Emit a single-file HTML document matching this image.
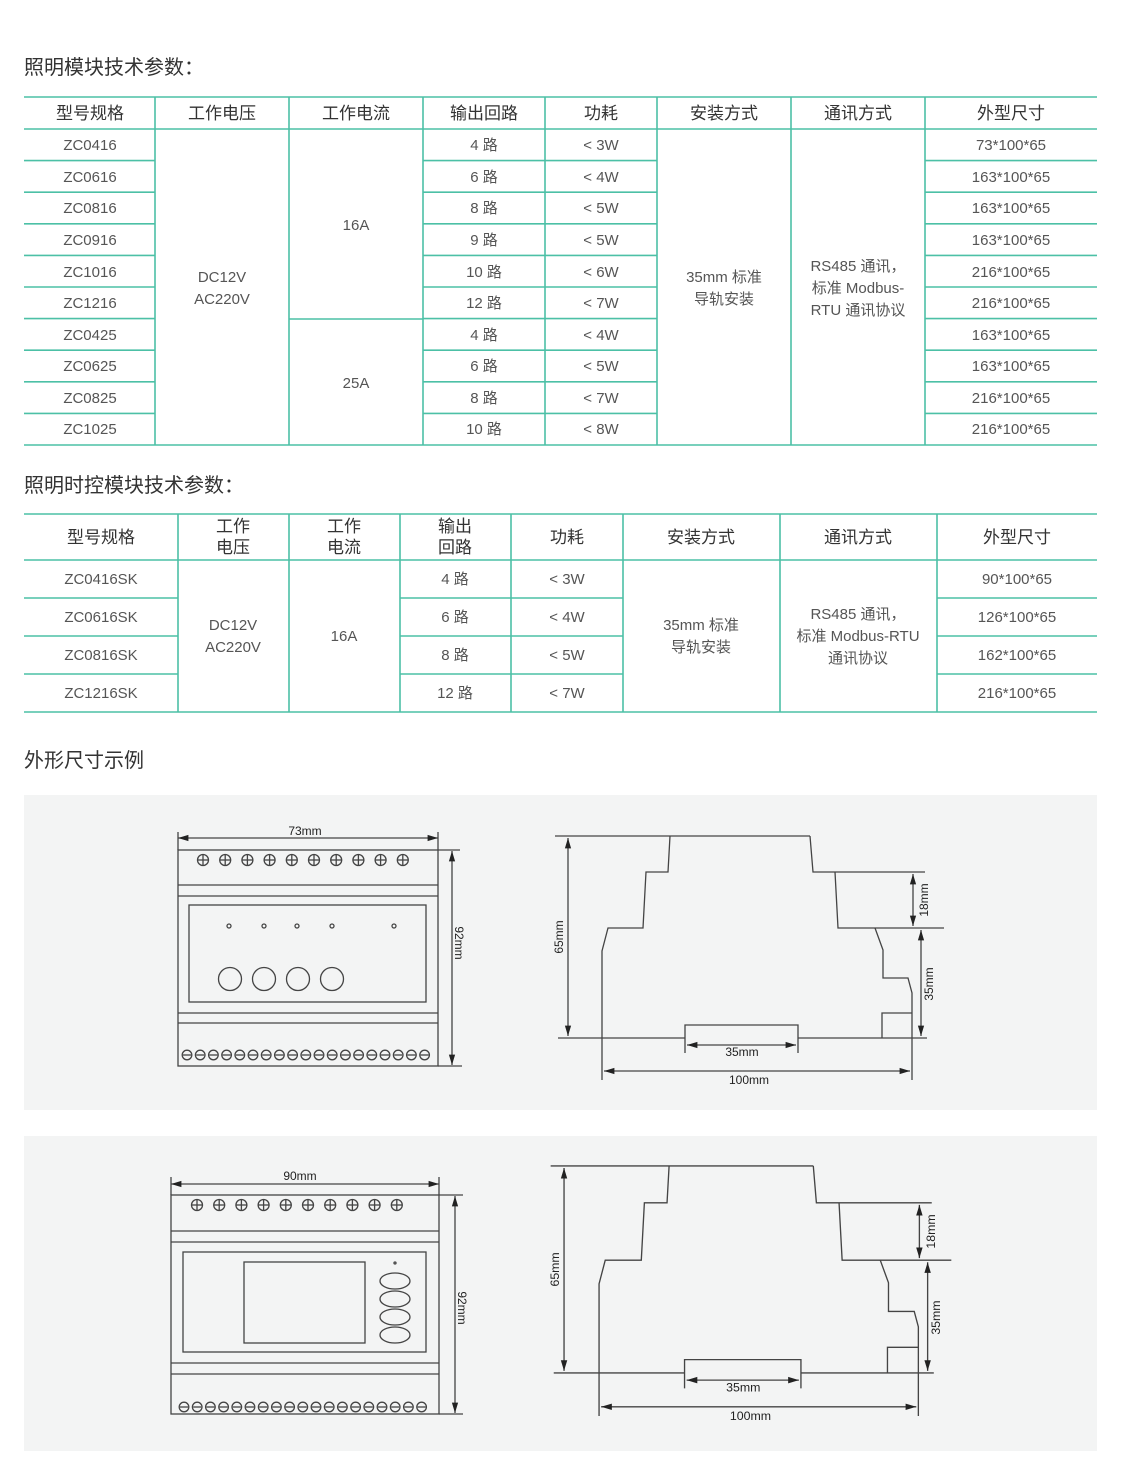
<!DOCTYPE html>
<html><head><meta charset="utf-8"><style>
html,body{margin:0;padding:0;background:#fff}
svg{display:block}
text{font-family:"Liberation Sans","Noto Sans CJK SC",sans-serif;fill:#555}
.h{font-size:17px;fill:#333;text-anchor:middle}
.b{font-size:15px;text-anchor:middle}
.t{font-size:20px;fill:#333}
.g line,.g rect,.g circle,.g ellipse,.g polyline,.g path{stroke:#444;stroke-width:1.3;fill:none}
.d{font-size:12px;fill:#222;text-anchor:middle}
</style></head><body>
<svg width="1121" height="1471" viewBox="0 0 1121 1471" xmlns="http://www.w3.org/2000/svg">
<defs>
<marker id="a" viewBox="0 0 10 10" refX="10" refY="5" markerWidth="8" markerHeight="8" orient="auto-start-reverse"><path d="M0,2 L10,5 L0,8 z" fill="#222"/></marker>
</defs>
<text class="t" x="24" y="74">照明模块技术参数：</text>
<text class="t" x="24" y="492">照明时控模块技术参数：</text>
<text class="t" x="24" y="767">外形尺寸示例</text>

<!-- Table 1 -->
<g stroke="#4cc0a6" stroke-width="1.6">
<line x1="24" y1="97" x2="1097" y2="97"/><line x1="24" y1="129" x2="1097" y2="129"/><line x1="24" y1="445" x2="1097" y2="445"/>
<line x1="155" y1="97" x2="155" y2="445"/><line x1="289" y1="97" x2="289" y2="445"/><line x1="423" y1="97" x2="423" y2="445"/><line x1="545" y1="97" x2="545" y2="445"/><line x1="657" y1="97" x2="657" y2="445"/><line x1="791" y1="97" x2="791" y2="445"/><line x1="925" y1="97" x2="925" y2="445"/>
<line x1="289" y1="319" x2="423" y2="319"/>
<g id="r1"><line x1="24" y1="160.6" x2="155" y2="160.6"/><line x1="423" y1="160.6" x2="657" y2="160.6"/><line x1="925" y1="160.6" x2="1097" y2="160.6"/></g>
<use href="#r1" y="31.6"/><use href="#r1" y="63.2"/><use href="#r1" y="94.8"/><use href="#r1" y="126.4"/><use href="#r1" y="158"/><use href="#r1" y="189.6"/><use href="#r1" y="221.2"/><use href="#r1" y="252.8"/>
</g>
<g class="h"><text x="90" y="119" class="h">型号规格</text><text x="222" y="119" class="h">工作电压</text><text x="356" y="119" class="h">工作电流</text><text x="484" y="119" class="h">输出回路</text><text x="601" y="119" class="h">功耗</text><text x="724" y="119" class="h">安装方式</text><text x="858" y="119" class="h">通讯方式</text><text x="1011" y="119" class="h">外型尺寸</text></g>
<g>
<text class="b" x="90" y="150">ZC0416</text><text class="b" x="484" y="150">4 路</text><text class="b" x="601" y="150">&lt; 3W</text><text class="b" x="1011" y="150">73*100*65</text>
<text class="b" x="90" y="182">ZC0616</text><text class="b" x="484" y="182">6 路</text><text class="b" x="601" y="182">&lt; 4W</text><text class="b" x="1011" y="182">163*100*65</text>
<text class="b" x="90" y="213">ZC0816</text><text class="b" x="484" y="213">8 路</text><text class="b" x="601" y="213">&lt; 5W</text><text class="b" x="1011" y="213">163*100*65</text>
<text class="b" x="90" y="245">ZC0916</text><text class="b" x="484" y="245">9 路</text><text class="b" x="601" y="245">&lt; 5W</text><text class="b" x="1011" y="245">163*100*65</text>
<text class="b" x="90" y="277">ZC1016</text><text class="b" x="484" y="277">10 路</text><text class="b" x="601" y="277">&lt; 6W</text><text class="b" x="1011" y="277">216*100*65</text>
<text class="b" x="90" y="308">ZC1216</text><text class="b" x="484" y="308">12 路</text><text class="b" x="601" y="308">&lt; 7W</text><text class="b" x="1011" y="308">216*100*65</text>
<text class="b" x="90" y="340">ZC0425</text><text class="b" x="484" y="340">4 路</text><text class="b" x="601" y="340">&lt; 4W</text><text class="b" x="1011" y="340">163*100*65</text>
<text class="b" x="90" y="371">ZC0625</text><text class="b" x="484" y="371">6 路</text><text class="b" x="601" y="371">&lt; 5W</text><text class="b" x="1011" y="371">163*100*65</text>
<text class="b" x="90" y="403">ZC0825</text><text class="b" x="484" y="403">8 路</text><text class="b" x="601" y="403">&lt; 7W</text><text class="b" x="1011" y="403">216*100*65</text>
<text class="b" x="90" y="434">ZC1025</text><text class="b" x="484" y="434">10 路</text><text class="b" x="601" y="434">&lt; 8W</text><text class="b" x="1011" y="434">216*100*65</text>
<text class="b" x="222" y="282">DC12V</text><text class="b" x="222" y="304">AC220V</text>
<text class="b" x="356" y="230">16A</text><text class="b" x="356" y="388">25A</text>
<text class="b" x="724" y="282">35mm 标准</text><text class="b" x="724" y="304">导轨安装</text>
<text class="b" x="858" y="271">RS485 通讯，</text><text class="b" x="858" y="293">标准 Modbus-</text><text class="b" x="858" y="315">RTU 通讯协议</text>
</g>

<!-- Table 2 -->
<g stroke="#4cc0a6" stroke-width="1.6">
<line x1="24" y1="514" x2="1097" y2="514"/><line x1="24" y1="560" x2="1097" y2="560"/><line x1="24" y1="712" x2="1097" y2="712"/>
<line x1="178" y1="514" x2="178" y2="712"/><line x1="289" y1="514" x2="289" y2="712"/><line x1="400" y1="514" x2="400" y2="712"/><line x1="511" y1="514" x2="511" y2="712"/><line x1="623" y1="514" x2="623" y2="712"/><line x1="780" y1="514" x2="780" y2="712"/><line x1="937" y1="514" x2="937" y2="712"/>
<g id="r2"><line x1="24" y1="598" x2="178" y2="598"/><line x1="400" y1="598" x2="623" y2="598"/><line x1="937" y1="598" x2="1097" y2="598"/></g>
<use href="#r2" y="38"/><use href="#r2" y="76"/>
</g>
<text class="h" x="101" y="543">型号规格</text><text class="h" x="233" y="532">工作</text><text class="h" x="233" y="553">电压</text><text class="h" x="344" y="532">工作</text><text class="h" x="344" y="553">电流</text><text class="h" x="455" y="532">输出</text><text class="h" x="455" y="553">回路</text><text class="h" x="567" y="543">功耗</text><text class="h" x="701" y="543">安装方式</text><text class="h" x="858" y="543">通讯方式</text><text class="h" x="1017" y="543">外型尺寸</text>
<text class="b" x="101" y="584">ZC0416SK</text><text class="b" x="455" y="584">4 路</text><text class="b" x="567" y="584">&lt; 3W</text><text class="b" x="1017" y="584">90*100*65</text>
<text class="b" x="101" y="622">ZC0616SK</text><text class="b" x="455" y="622">6 路</text><text class="b" x="567" y="622">&lt; 4W</text><text class="b" x="1017" y="622">126*100*65</text>
<text class="b" x="101" y="660">ZC0816SK</text><text class="b" x="455" y="660">8 路</text><text class="b" x="567" y="660">&lt; 5W</text><text class="b" x="1017" y="660">162*100*65</text>
<text class="b" x="101" y="698">ZC1216SK</text><text class="b" x="455" y="698">12 路</text><text class="b" x="567" y="698">&lt; 7W</text><text class="b" x="1017" y="698">216*100*65</text>
<text class="b" x="233" y="630">DC12V</text><text class="b" x="233" y="652">AC220V</text>
<text class="b" x="344" y="641">16A</text>
<text class="b" x="701" y="630">35mm 标准</text><text class="b" x="701" y="652">导轨安装</text>
<text class="b" x="858" y="619">RS485 通讯，</text><text class="b" x="858" y="641">标准 Modbus-RTU</text><text class="b" x="858" y="663">通讯协议</text>

<!-- panels -->
<rect x="24" y="795" width="1073" height="315" fill="#f3f4f4"/>
<rect x="24" y="1136" width="1073" height="315" fill="#f3f4f4"/>

<!-- Front view 1 -->
<g class="g">
<rect x="178" y="850" width="260" height="216"/>
<line x1="178" y1="885" x2="438" y2="885"/><line x1="178" y1="896" x2="438" y2="896"/>
<rect x="189" y="905" width="237" height="97"/>
<line x1="178" y1="1013" x2="438" y2="1013"/><line x1="178" y1="1023" x2="438" y2="1023"/>
<line x1="178" y1="838" x2="438" y2="838" marker-start="url(#a)" marker-end="url(#a)"/>
<line x1="178" y1="832" x2="178" y2="850"/><line x1="438" y1="832" x2="438" y2="850"/>
<line x1="452" y1="851" x2="452" y2="1065" marker-start="url(#a)" marker-end="url(#a)"/>
<line x1="438" y1="850" x2="460" y2="850"/><line x1="438" y1="1066" x2="462" y2="1066"/>
<circle cx="229" cy="926" r="2"/><circle cx="264" cy="926" r="2"/><circle cx="297" cy="926" r="2"/><circle cx="332" cy="926" r="2"/><circle cx="394" cy="926" r="2"/>
<circle cx="230" cy="979" r="11.5"/><circle cx="264" cy="979" r="11.5"/><circle cx="298" cy="979" r="11.5"/><circle cx="332" cy="979" r="11.5"/>
<g id="sc1"><circle cx="203" cy="860" r="5.5"/><line x1="197.5" y1="860" x2="208.5" y2="860"/><line x1="203" y1="854.5" x2="203" y2="865.5"/></g>
<use href="#sc1" x="22.2"/><use href="#sc1" x="44.4"/><use href="#sc1" x="66.6"/><use href="#sc1" x="88.8"/><use href="#sc1" x="111"/><use href="#sc1" x="133.2"/><use href="#sc1" x="155.4"/><use href="#sc1" x="177.6"/><use href="#sc1" x="199.8"/>
<g id="bc1"><circle cx="187" cy="1055" r="4.8"/><line x1="183" y1="1055" x2="191" y2="1055"/></g>
<use href="#bc1" x="13.2"/><use href="#bc1" x="26.4"/><use href="#bc1" x="39.6"/><use href="#bc1" x="52.8"/><use href="#bc1" x="66"/><use href="#bc1" x="79.2"/><use href="#bc1" x="92.4"/><use href="#bc1" x="105.6"/><use href="#bc1" x="118.8"/><use href="#bc1" x="132"/><use href="#bc1" x="145.2"/><use href="#bc1" x="158.4"/><use href="#bc1" x="171.6"/><use href="#bc1" x="184.8"/><use href="#bc1" x="198"/><use href="#bc1" x="211.2"/><use href="#bc1" x="224.4"/><use href="#bc1" x="237.6"/>
</g>
<text class="d" x="305" y="835">73mm</text>
<text class="d" transform="translate(455,943) rotate(90)">92mm</text>

<!-- Side view 1 -->
<g id="side" class="g">
<line x1="555" y1="836" x2="810" y2="836"/>
<polyline points="670,836 668,872 646,872 643,928 608,928 602,951 602,1080"/>
<polyline points="810,836 813,872 925,872"/>
<polyline points="835,872 838,928 944,928"/>
<polyline points="875,928 883,950 883,978 908,978 912,993 912,1080"/>
<polyline points="882,1038 882,1013 912,1013"/>
<line x1="558" y1="1038" x2="685" y2="1038"/>
<polyline points="685,1053 685,1025 798,1025 798,1053"/>
<line x1="798" y1="1038" x2="927" y2="1038"/>
<line x1="687" y1="1045" x2="796" y2="1045" marker-start="url(#a)" marker-end="url(#a)"/>
<line x1="604" y1="1071" x2="910" y2="1071" marker-start="url(#a)" marker-end="url(#a)"/>
<line x1="568" y1="838" x2="568" y2="1036" marker-start="url(#a)" marker-end="url(#a)"/>
<line x1="913" y1="874" x2="913" y2="926" marker-start="url(#a)" marker-end="url(#a)"/>
<line x1="921" y1="930" x2="921" y2="1036" marker-start="url(#a)" marker-end="url(#a)"/>
<text class="d" x="742" y="1056" style="stroke:none">35mm</text>
<text class="d" x="749" y="1084" style="stroke:none">100mm</text>
<text class="d" transform="translate(563,937) rotate(-90)" style="stroke:none">65mm</text>
<text class="d" transform="translate(928,900) rotate(-90)" style="stroke:none">18mm</text>
<text class="d" transform="translate(933,984) rotate(-90)" style="stroke:none">35mm</text>
</g>
<use href="#side" transform="matrix(1.03,0,0,1.025,-21,309)"/>

<!-- Front view 2 -->
<g class="g">
<rect x="171" y="1195" width="268" height="219"/>
<line x1="171" y1="1231" x2="439" y2="1231"/><line x1="171" y1="1242" x2="439" y2="1242"/>
<rect x="183" y="1252" width="243" height="100"/>
<rect x="244" y="1262" width="121" height="81"/>
<circle cx="395" cy="1263" r="1"/>
<ellipse cx="395" cy="1281" rx="15" ry="8"/><ellipse cx="395" cy="1299" rx="15" ry="8"/><ellipse cx="395" cy="1317" rx="15" ry="8"/><ellipse cx="395" cy="1335" rx="15" ry="8"/>
<line x1="171" y1="1363" x2="439" y2="1363"/><line x1="171" y1="1374" x2="439" y2="1374"/>
<line x1="171" y1="1184" x2="439" y2="1184" marker-start="url(#a)" marker-end="url(#a)"/>
<line x1="171" y1="1177" x2="171" y2="1195"/><line x1="439" y1="1177" x2="439" y2="1195"/>
<line x1="455" y1="1196" x2="455" y2="1413" marker-start="url(#a)" marker-end="url(#a)"/>
<line x1="439" y1="1195" x2="463" y2="1195"/><line x1="439" y1="1414" x2="463" y2="1414"/>
<use href="#sc1" x="-6" y="345"/><use href="#sc1" x="16.2" y="345"/><use href="#sc1" x="38.4" y="345"/><use href="#sc1" x="60.6" y="345"/><use href="#sc1" x="82.8" y="345"/><use href="#sc1" x="105" y="345"/><use href="#sc1" x="127.2" y="345"/><use href="#sc1" x="149.4" y="345"/><use href="#sc1" x="171.6" y="345"/><use href="#sc1" x="193.8" y="345"/>
<g transform="translate(-3,352)">
<use href="#bc1"/><use href="#bc1" x="13.2"/><use href="#bc1" x="26.4"/><use href="#bc1" x="39.6"/><use href="#bc1" x="52.8"/><use href="#bc1" x="66"/><use href="#bc1" x="79.2"/><use href="#bc1" x="92.4"/><use href="#bc1" x="105.6"/><use href="#bc1" x="118.8"/><use href="#bc1" x="132"/><use href="#bc1" x="145.2"/><use href="#bc1" x="158.4"/><use href="#bc1" x="171.6"/><use href="#bc1" x="184.8"/><use href="#bc1" x="198"/><use href="#bc1" x="211.2"/><use href="#bc1" x="224.4"/><use href="#bc1" x="237.6"/>
</g>
</g>
<text class="d" x="300" y="1180">90mm</text>
<text class="d" transform="translate(458,1308) rotate(90)">92mm</text>
</svg>
</body></html>
